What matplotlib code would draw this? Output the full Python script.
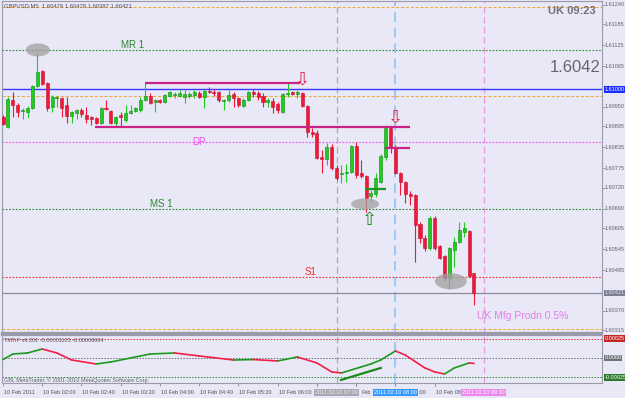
import numpy as np
import matplotlib.pyplot as plt
from matplotlib.patches import Ellipse

plt.rcParams['font.family'] = ['Liberation Sans', 'DejaVu Sans']

# GBPUSD M5, 10 Feb 2011 01:20 .. 09:20 (bar index 0..96)
opens = [1.60921, 1.60893, 1.60970, 1.60955, 1.60938, 1.60935, 1.60947, 1.61009, 1.61052, 1.61018,
         1.60950, 1.60975, 1.60975, 1.60955, 1.60924, 1.60933, 1.60941, 1.60927, 1.60921, 1.60918,
         1.60904, 1.60947, 1.60938, 1.60904, 1.60927, 1.60913, 1.60933, 1.60938, 1.60941, 1.60970,
         1.60981, 1.60964, 1.60970, 1.60964, 1.60981, 1.60984, 1.60981, 1.60978, 1.60981, 1.60984,
         1.60990, 1.60978, 1.60995, 1.60992, 1.60992, 1.60967, 1.60970, 1.60987, 1.60975, 1.60953,
         1.60970, 1.60992, 1.60990, 1.60981, 1.60964, 1.60967, 1.60958, 1.60935, 1.60987, 1.60992,
         1.60987, 1.60990, 1.60953, 1.60879, 1.60876, 1.60807, 1.60802, 1.60836, 1.60776, 1.60759,
         1.60762, 1.60765, 1.60839, 1.60762, 1.60753, 1.60696, 1.60702, 1.60736, 1.60807, 1.60890,
         1.60833, 1.60762, 1.60736, 1.60702, 1.60699, 1.60617, 1.60577, 1.60548, 1.60634, 1.60554,
         1.60526, 1.60463, 1.60543, 1.60566, 1.60594, 1.60597, 1.60478]
highs = [1.60927, 1.60978, 1.60992, 1.60961, 1.60947, 1.60953, 1.61012, 1.61103, 1.61055, 1.61021,
         1.60984, 1.60981, 1.60978, 1.60978, 1.60938, 1.60944, 1.60947, 1.60950, 1.60924, 1.60921,
         1.60950, 1.60970, 1.60941, 1.60924, 1.60935, 1.60955, 1.60955, 1.60950, 1.60978, 1.61018,
         1.60990, 1.60972, 1.60972, 1.60987, 1.60995, 1.60992, 1.60998, 1.60998, 1.60992, 1.60998,
         1.60995, 1.60998, 1.61007, 1.61001, 1.60995, 1.60972, 1.60998, 1.60992, 1.60978, 1.60975,
         1.60995, 1.61001, 1.60995, 1.60990, 1.60975, 1.60975, 1.60964, 1.60990, 1.61021, 1.60995,
         1.60998, 1.60992, 1.60955, 1.60890, 1.60884, 1.60827, 1.60847, 1.60844, 1.60785, 1.60785,
         1.60788, 1.60842, 1.60850, 1.60799, 1.60756, 1.60714, 1.60762, 1.60816, 1.60898, 1.60893,
         1.60842, 1.60765, 1.60739, 1.60711, 1.60702, 1.60622, 1.60585, 1.60640, 1.60640, 1.60557,
         1.60529, 1.60551, 1.60580, 1.60622, 1.60622, 1.60600, 1.60478]
lows = [1.60898, 1.60890, 1.60921, 1.60921, 1.60916, 1.60918, 1.60944, 1.61007, 1.61012, 1.60938,
        1.60935, 1.60950, 1.60921, 1.60904, 1.60904, 1.60916, 1.60921, 1.60904, 1.60898, 1.60901,
        1.60901, 1.60941, 1.60901, 1.60896, 1.60896, 1.60907, 1.60930, 1.60935, 1.60935, 1.60967,
        1.60958, 1.60935, 1.60961, 1.60961, 1.60978, 1.60975, 1.60978, 1.60961, 1.60975, 1.60975,
        1.60975, 1.60947, 1.60990, 1.60981, 1.60964, 1.60941, 1.60964, 1.60950, 1.60950, 1.60950,
        1.60967, 1.60978, 1.60970, 1.60950, 1.60950, 1.60933, 1.60933, 1.60933, 1.60978, 1.60984,
        1.60975, 1.60950, 1.60864, 1.60864, 1.60802, 1.60762, 1.60785, 1.60770, 1.60742, 1.60733,
        1.60736, 1.60762, 1.60748, 1.60748, 1.60651, 1.60679, 1.60694, 1.60733, 1.60799, 1.60819,
        1.60759, 1.60699, 1.60677, 1.60671, 1.60509, 1.60563, 1.60540, 1.60543, 1.60543, 1.60517,
        1.60457, 1.60432, 1.60494, 1.60563, 1.60580, 1.60466, 1.60387]
closes = [1.60901, 1.60972, 1.60955, 1.60935, 1.60941, 1.60947, 1.61009, 1.61049, 1.61015, 1.60947,
          1.60978, 1.60978, 1.60947, 1.60924, 1.60935, 1.60941, 1.60930, 1.60916, 1.60916, 1.60904,
          1.60947, 1.60944, 1.60904, 1.60921, 1.60921, 1.60933, 1.60938, 1.60947, 1.60970, 1.60981,
          1.60961, 1.60970, 1.60964, 1.60984, 1.60992, 1.60987, 1.60990, 1.60987, 1.60987, 1.60992,
          1.60978, 1.60995, 1.60992, 1.60990, 1.60970, 1.60970, 1.60984, 1.60975, 1.60955, 1.60970,
          1.60992, 1.60987, 1.60978, 1.60964, 1.60970, 1.60950, 1.60941, 1.60987, 1.60990, 1.60987,
          1.60992, 1.60953, 1.60879, 1.60873, 1.60805, 1.60802, 1.60836, 1.60776, 1.60748, 1.60762,
          1.60765, 1.60839, 1.60756, 1.60753, 1.60691, 1.60705, 1.60748, 1.60810, 1.60890, 1.60836,
          1.60762, 1.60736, 1.60702, 1.60696, 1.60614, 1.60577, 1.60548, 1.60634, 1.60548, 1.60520,
          1.60463, 1.60548, 1.60566, 1.60600, 1.60605, 1.60469, 1.60421]

# indicator (TMTrF) read at some bars, in units of 1e-5
tm_bars = [0, 2, 5, 8, 11, 14, 19, 22, 26, 30, 35, 40, 47, 51, 56, 60, 64, 67, 69, 73,
           75, 77, 80, 82, 86, 88, 90, 92, 95, 96]
tm_vals = [-2.0, 5.1, 6.4, 11.5, 6.4, -2.6, -7.7, -5.1, 0.0, 5.1, 6.4, 2.6, -2.6, -2.0, -3.8,
           1.3, -6.4, -17.9, -19.2, -11.5, -7.7, -2.6, 9.0, 3.8, -12.8, -17.9, -20.5, -12.8, -6.4, -7.0]

# pivot levels and other lines
level_names = ['MR 1', 'DP', 'MS 1', 'S1']
level_prices = [1.61112, 1.60850, 1.60660, 1.60466]
level_colors = ['#2a8a2a', '#f050f0', '#2a8a2a', '#f03030']
orange_levels = [1.61234, 1.60981, 1.60318]
round_level = 1.61000
last_price = 1.60421

price_ticks = [1.61240, 1.61185, 1.61125, 1.61065, 1.60950, 1.60895, 1.60835, 1.60775,
               1.60720, 1.60660, 1.60605, 1.60545, 1.60485, 1.60370, 1.60315]
time_bars = [0, 8, 16, 24, 32, 40, 48, 56, 64, 72, 80, 88]
time_labels = ['10 Feb 2011', '10 Feb 02:00', '10 Feb 02:40', '10 Feb 03:20', '10 Feb 04:00',
               '10 Feb 04:40', '10 Feb 05:20', '10 Feb 06:00']
# pieces of the labels that stay visible next to the highlighted boxes
label_bits = [(73.0, 'Feb'), (84.7, ':00'), (88.2, '10 Feb 08')]

bg = '#e8e8f6'
up_col = '#20cc20'
dn_col = '#f01838'

fig = plt.figure(figsize=(6.25, 3.98), dpi=100, facecolor=bg)
ax = fig.add_axes([0.0032, 0.1633, 0.96, 0.8342], facecolor=bg)
ax2 = fig.add_axes([0.0032, 0.0377, 0.96, 0.1206], facecolor=bg)

x = np.arange(len(opens))
o = np.array(opens); h = np.array(highs); l = np.array(lows); c = np.array(closes)
up = c >= o
cols = np.where(up, up_col, dn_col)
edges = np.where(up, '#0e8a0e', '#c01030')

ax.vlines(x, l, h, colors=cols, lw=0.8, zorder=3)
body = np.maximum(np.abs(c - o), 0.000012)
ax.bar(x, body, bottom=np.minimum(o, c), width=0.62, color=cols, edgecolor=edges,
       linewidth=0.4, zorder=4)

# horizontal lines
for p in orange_levels:
    ax.axhline(p, color='#f5a623', lw=0.7, ls=(0, (3, 2)), zorder=1)
ax.axhline(round_level, color='#3a3aff', lw=1.0, zorder=2)
ax.axhline(last_price, color='#8a8a9a', lw=0.9, zorder=2)
for p, cl in zip(level_prices, level_colors):
    ax.axhline(p, color=cl, lw=0.8, ls=(0, (1.5, 1.5)), zorder=1)

ax.text(24, level_prices[0], 'MR 1', color=level_colors[0], fontsize=7, va='bottom')
ax.text(38.5, level_prices[1], 'DP', color=level_colors[1], fontsize=7, va='center')
ax.text(30, level_prices[2], 'MS 1', color=level_colors[2], fontsize=7, va='bottom')
ax.text(61.5, level_prices[3], 'S1', color=level_colors[3], fontsize=7, va='bottom')

# vertical time lines
for ax_ in (ax, ax2):
    ax_.axvline(68, color='#a8a8b8', lw=0.9, ls=(0, (5, 3)), zorder=1)
    ax_.axvline(80, color='#9cc8f5', lw=1.4, ls=(0, (5, 3)), zorder=1)
    ax_.axvline(98, color='#e49ae4', lw=0.9, ls=(0, (5, 3)), zorder=1)

# trend segments
ax.hlines(1.61018, 29, 60.5, color='#cc2288', lw=1.6, zorder=5)
ax.hlines(1.60893, 18.8, 83, color='#cc2288', lw=1.6, zorder=5)
ax.hlines(1.60833, 77.9, 83, color='#cc2288', lw=1.6, zorder=5)
ax.hlines(1.60717, 73.8, 78, color='#1a9a1a', lw=1.6, zorder=5)

# arrows
ax.text(61.1, 1.61029, '\u21e9', family='DejaVu Sans', color='#e0204a', fontsize=13,
        ha='center', va='center', zorder=6)
ax.text(80.0, 1.60921, '\u21e9', family='DejaVu Sans', color='#e0204a', fontsize=13,
        ha='center', va='center', zorder=6)
ax.text(74.8, 1.60628, '\u21e7', family='DejaVu Sans', color='#1a8a1a', fontsize=13,
        ha='center', va='center', zorder=6)

# grey highlight ellipses
for cx, cy, w, hh in [(7.1, 1.61112, 4.9, 0.00037), (73.8, 1.60674, 5.7, 0.00031),
                      (91.3, 1.60454, 6.5, 0.00046)]:
    ax.add_patch(Ellipse((cx, cy), w, hh, color='#a0a0a0', alpha=0.75, zorder=7, lw=0))

ax.text(0.003, 0.992, 'GBPUSD,M5  1.60478 1.60478 1.60387 1.60421', transform=ax.transAxes,
        fontsize=4.2, color='#505060', va='top')
ax.text(0.99, 0.985, 'UK 09:23', transform=ax.transAxes, fontsize=8, color='#707080',
        weight='bold', ha='right', va='top')
ax.text(0.998, 1.61061, '1.6042', fontsize=12, color='#656575', ha='right', va='center',
        transform=ax.get_yaxis_transform())
ax.text(96.6, 1.60354, 'UK Mfg Prodn 0.5%', fontsize=7.5, color='#e67de6', ha='left',
        va='center')

ax.set_xlim(-0.2, 122.1)
ax.set_ylim(1.60307, 1.61251)

# price scale on the right
ax.yaxis.tick_right()
ax.set_yticks(price_ticks)
ax.set_yticklabels([])
ax.tick_params(axis='y', length=2, width=0.6, color='#8a8a9a')
ax.set_xticks([])
for p in price_ticks:
    ax.text(1.004, p, f'{p:.5f}', transform=ax.get_yaxis_transform(), fontsize=4,
            color='#606070', va='center', ha='left')
ax.text(1.004, round_level, '1.61000', transform=ax.get_yaxis_transform(), fontsize=4,
        color='white', va='center', ha='left',
        bbox=dict(facecolor='#1a2cff', edgecolor='none', pad=0.6))
ax.text(1.004, last_price, '1.60421', transform=ax.get_yaxis_transform(), fontsize=4,
        color='#dde', va='center', ha='left',
        bbox=dict(facecolor='#7a8090', edgecolor='none', pad=0.6))

# indicator panel
tb = np.array(tm_bars)
tv = np.array(tm_vals) * 1e-5
for i in range(len(tb) - 1):
    cl = '#1c9a1c' if tv[i + 1] >= tv[i] else '#f0204a'
    ax2.plot(tb[i:i + 2], tv[i:i + 2], color=cl, lw=1.2, solid_capstyle='round', zorder=3)
ax2.plot([68.9, 77], [-0.000282, -0.000128], color='#1a8a1a', lw=1.6, zorder=4)
ax2.axhline(0.00025, color='#e03030', lw=0.7, ls=(0, (1.5, 1.5)))
ax2.axhline(0.0, color='#707070', lw=0.7, ls=(0, (1.5, 1.5)))
ax2.axhline(-0.00025, color='#2a8a2a', lw=0.7, ls=(0, (1.5, 1.5)))
ax2.set_xlim(-0.2, 122.1)
ax2.set_ylim(-0.000321, 0.000295)
ax2.set_yticks([])
ax2.set_xticks(time_bars + [64, 72, 80, 88])
ax2.set_xticklabels([])
ax2.tick_params(axis='x', length=2, width=0.6, color='#8a8a9a')
ax2.text(0.003, 0.93, 'TMTrF v6.201 -0.00001123 -0.00006694', transform=ax2.transAxes,
         fontsize=4, color='#505060', va='top')
ax2.text(0.003, 0.01, 'GBL MetaTrader, \u00a9 2001-2010 MetaQuotes Software Corp.',
         transform=ax2.transAxes, fontsize=4, color='#606070', va='bottom')
for v, s, fc in [(0.00025, '0.00025', '#c02828'), (0.0, '0.0000', '#707478'),
                 (-0.00025, '-0.00025', '#2a7a2a')]:
    ax2.text(1.004, v, s, transform=ax2.get_yaxis_transform(), fontsize=4, color='white',
             va='center', ha='left', bbox=dict(facecolor=fc, edgecolor='none', pad=0.6))

for b, s in zip(time_bars, time_labels):
    ax2.text(b + 0.2, -0.2, s, transform=ax2.get_xaxis_transform(), fontsize=4,
             color='#505060', ha='left', va='center')
for b, s in label_bits:
    ax2.text(b, -0.2, s, transform=ax2.get_xaxis_transform(), fontsize=4,
             color='#505060', ha='left', va='center')
for b, s, fc, tc in [(68, '2011.02.10 07:00', '#a8a8b0', '#f0f0f0'),
                     (80, '2011.02.10 08:00', '#3399ff', 'white'),
                     (98, '2011.02.10 09:30', '#ee88ee', 'white')]:
    ax2.text(b, -0.2, s, transform=ax2.get_xaxis_transform(), fontsize=4, color=tc,
             ha='center', va='center', bbox=dict(facecolor=fc, edgecolor='none', pad=0.8))

for a in (ax, ax2):
    for sp in a.spines.values():
        sp.set_color('#9a9aaa')
        sp.set_linewidth(0.8)
ax.spines['bottom'].set_linewidth(1.6)
ax2.spines['top'].set_linewidth(1.6)

fig.savefig('out.png', dpi=100, facecolor=bg)
